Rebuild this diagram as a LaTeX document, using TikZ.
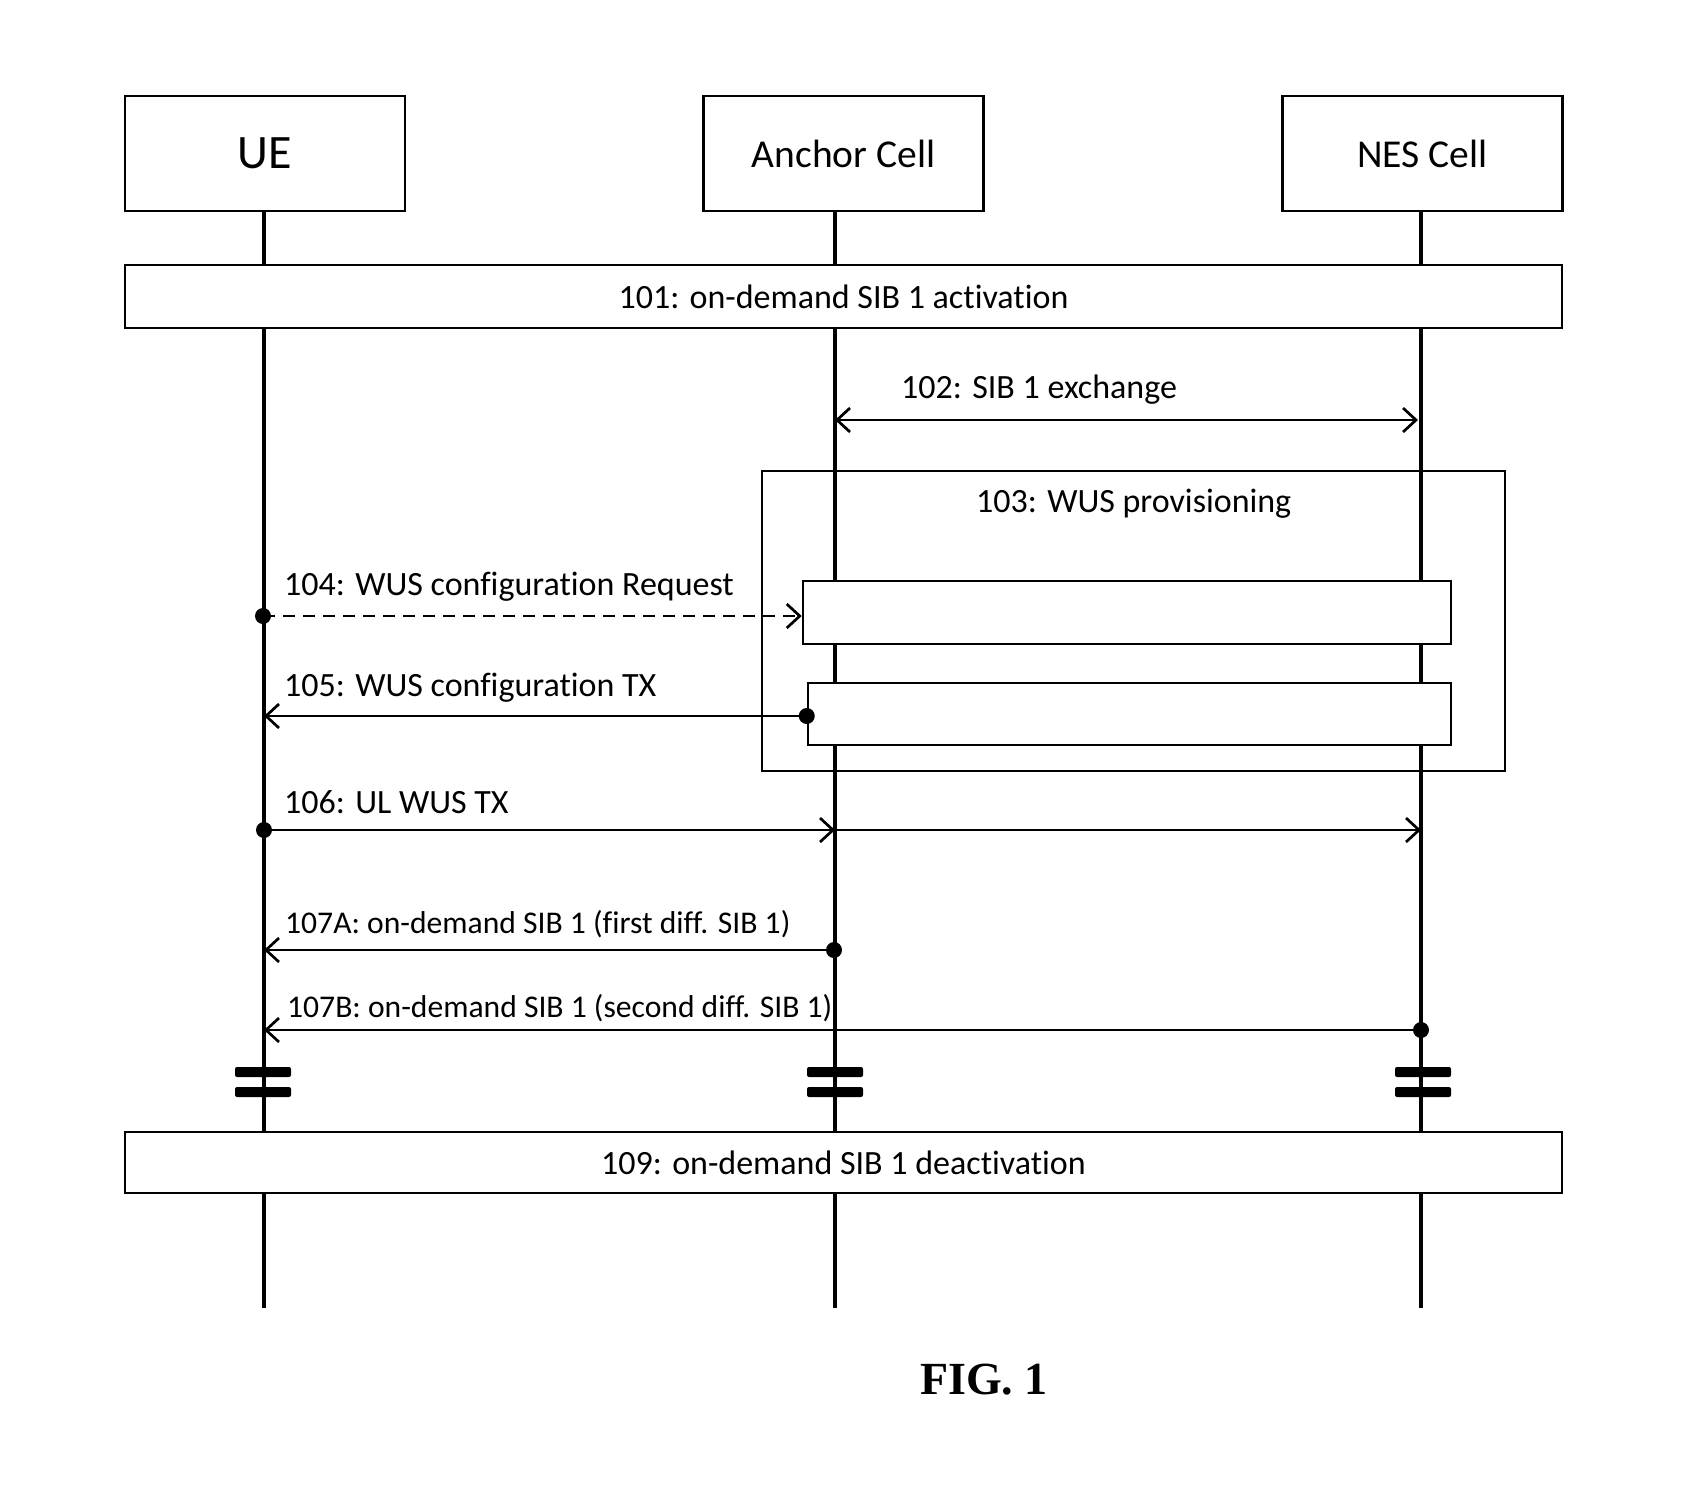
\documentclass[tikz,border=0pt]{standalone}
\usepackage{fontspec}
\setmainfont{Carlito}[Ligatures=NoCommon]
\newfontfamily\figfont{Liberation Serif}
\usetikzlibrary{arrows.meta}

\tikzset{
  barb/.tip={Straight Barb[length=13pt,width=24pt]},
  entity/.style={draw, line width=2.5pt, minimum width=280pt, minimum height=115pt, inner sep=0pt},
  phase/.style={draw, fill=white, line width=2.5pt, minimum width=1437pt, inner sep=0pt, font=\fontsize{34}{40}\selectfont},
  subbox/.style={draw, fill=white, line width=2.5pt, inner sep=0pt},
  lifeline/.style={line width=3.5pt},
  msg/.style={line width=2.7pt, -barb},
  dot/.style={circle, fill=black, inner sep=0pt, minimum size=16pt},
  lbl/.style={anchor=base west, inner sep=0pt, font=\fontsize{34}{40}\selectfont},
  brk/.style={fill=black, rounded corners=2pt, minimum width=56pt, minimum height=10pt, inner sep=0pt},
}

\begin{document}
\begin{tikzpicture}[x=1pt,y=-1pt]
    \useasboundingbox (0,0) rectangle (1700,1494);

    % entities
    \node[entity, font=\fontsize{48}{52}\selectfont] (ue) at (265,153.5) {UE};
    \node[entity, font=\fontsize{39.5}{46}\selectfont] (anchor) at (843.5,153.5) {Anchor Cell};
    \node[entity, font=\fontsize{39.5}{46}\selectfont] (nes) at (1422.5,153.5) {NES Cell};

    % lifelines
    \coordinate (ueEnd) at (264,1308);
    \coordinate (anEnd) at (835,1308);
    \coordinate (nesEnd) at (1421,1308);
    \draw[lifeline] (ue.south -| ueEnd) -- (ueEnd);
    \draw[lifeline] (anchor.south -| anEnd) -- (anEnd);
    \draw[lifeline] (nes.south -| nesEnd) -- (nesEnd);

    % phases
    \node[phase, minimum height=63pt] (act) at (843.5,296.5) {101: on-demand SIB 1 activation};
    \node[phase, minimum height=61pt] (deact) at (843.5,1162.5) {109: on-demand SIB 1 deactivation};

    % WUS provisioning
    \node[draw, line width=2.2pt, minimum width=743pt, minimum height=300pt, inner sep=0pt] (prov) at (1133.5,621) {};
    \node[lbl] (provlbl) at (976,512) {103: WUS provisioning};
    \node[subbox, minimum width=648pt, minimum height=63pt] (req) at (1127,612.5) {};
    \node[subbox, minimum width=643pt, minimum height=62pt] (tx) at (1129.5,714) {};

    % 102
    \coordinate (a102) at (835,420);
    \coordinate (n102) at (1418,420);
    \draw[line width=2.7pt, barb-barb] (a102) -- (n102);
    \node[lbl] (l102) at (901,398) {102: SIB 1 exchange};

    % 104
    \node[dot] (d104) at (263,616) {};
    \draw[msg, dash pattern=on 12pt off 8pt] (d104.center) -- (d104 -| req.west);
    \node[lbl] (l104) at (284,595) {104: WUS configuration Request};

    % 105
    \coordinate (e105) at (264,716);
    \draw[msg] (tx.west |- e105) -- (e105);
    \node[dot] (d105) at (tx.west |- e105) {};
    \node[lbl] (l105) at (284,696) {105: WUS configuration TX};

    % 106
    \node[dot] (d106) at (264,830) {};
    \coordinate (a106) at (835,830);
    \coordinate (n106) at (1421,830);
    \draw[msg] (d106.center) -- (a106);
    \draw[msg] (a106) -- (n106);
    \node[lbl] (l106) at (284,813) {106: UL WUS TX};

    % 107A
    \node[dot] (d107a) at (834,950) {};
    \coordinate (e107a) at (264,950);
    \draw[msg] (d107a.center) -- (e107a);
    \node[lbl, font=\fontsize{31.6}{36}\selectfont] (l107a) at (285,933) {107A: on-demand SIB 1 (first diff. SIB 1)};

    % 107B
    \node[dot] (d107b) at (1421,1030) {};
    \coordinate (e107b) at (264,1030);
    \draw[msg] (d107b.center) -- (e107b);
    \node[lbl, font=\fontsize{31.6}{36}\selectfont] (l107b) at (287,1017) {107B: on-demand SIB 1 (second diff. SIB 1)};

    % breaks
    \node[brk] (ueBrkA) at (263,1072) {};
    \node[brk] (ueBrkB) at (263,1092) {};
    \node[brk] (anBrkA) at (835,1072) {};
    \node[brk] (anBrkB) at (835,1092) {};
    \node[brk] (nesBrkA) at (1423,1072) {};
    \node[brk] (nesBrkB) at (1423,1092) {};

    \node[anchor=base, inner sep=0pt, font=\figfont\bfseries\fontsize{46}{50}\selectfont] (fig) at (984,1394) {FIG. 1};
\end{tikzpicture}
\end{document}
